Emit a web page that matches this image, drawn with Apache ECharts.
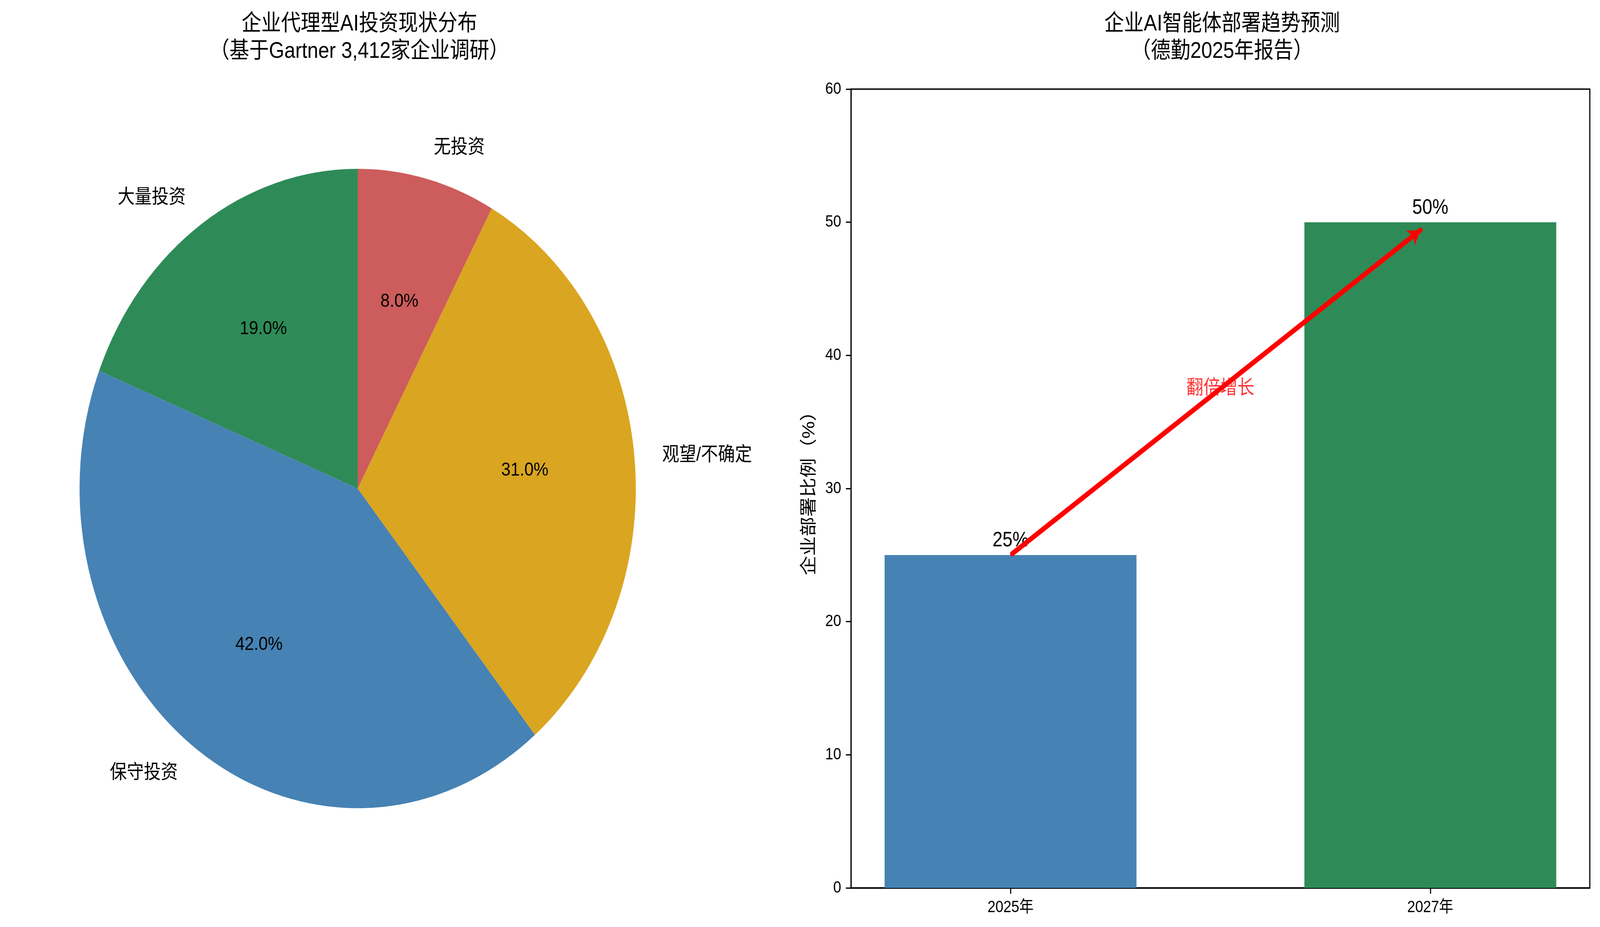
<!DOCTYPE html>
<html>
<head>
<meta charset="utf-8">
<script src="https://cdn.jsdelivr.net/npm/echarts@6/dist/echarts.min.js"></script>
<style>
html,body{margin:0;padding:0;background:#fff;overflow:hidden;}
#chart{width:4706px;height:2372px;transform-origin:0 0;}
</style>
</head>
<body>
<div id="chart"></div>
<script>
// ---- data ----
const pieTitle = '企业代理型AI投资现状分布\n（基于Gartner 3,412家企业调研）';
const pieLabels = ['大量投资', '保守投资', '观望/不确定', '无投资'];
const pieValues = [19, 42, 31, 8];
const pieColors = ['#2E8B57', '#4682B4', '#DAA520', '#CD5C5C'];

const barTitle = '企业AI智能体部署趋势预测\n（德勤2025年报告）';
const barCategories = ['2025年', '2027年'];
const barValues = [25, 50];
const barColors = ['#4682B4', '#2E8B57'];
const yAxisName = '企业部署比例（%）';
const arrowText = '翻倍增长';
const yMin = 0, yMax = 60, yStep = 10;

// ---- fit the 4706 x 2372 design into whatever viewport the browser gives ----
const el = document.getElementById('chart');
const fx = window.innerWidth / 4706, fy = window.innerHeight / 2372;
if (Math.abs(fx - 1) > 0.001 || Math.abs(fy - 1) > 0.001) {
  el.style.transform = 'scale(' + fx + ',' + fy + ')';
}

// ---- layout ----
const FONT = "'Liberation Sans', 'Noto Sans CJK SC', sans-serif";
const pieCx = 1052, pieCy = 1250, pieR = 818;
const axL = 2503, axR = 4676, axT = 228, axB = 2272;
const xMin = -0.38, xMax = 1.38;
const pxX = (axR - axL) / (xMax - xMin);      // pixels per x unit
const pxY = (axB - axT) / (yMax - yMin);      // pixels per y unit

const chart = echarts.init(el, null, {renderer: 'canvas'});

const pieData = pieLabels.map((n, i) => ({name: n, value: pieValues[i], itemStyle: {color: pieColors[i]}}));
const pieTotal = pieValues.reduce((a, b) => a + b, 0);

const barData = barValues.map((v, i) => ({value: [i, v], itemStyle: {color: barColors[i]}}));
const midPoint = [(0 + 1) / 2, (barValues[0] + barValues[1]) / 2];

// arrow from top of first bar to top of second, shortened like a matplotlib annotate arrow
const headLen = 36;
const arrowStart = [0, barValues[0]], arrowEnd = [1, barValues[1]];
const dPx = [(arrowEnd[0] - arrowStart[0]) * pxX, (arrowEnd[1] - arrowStart[1]) * pxY];
const dLen = Math.hypot(dPx[0], dPx[1]);
const u = [dPx[0] / dLen, dPx[1] / dLen];
const shrink = (pt, d) => [pt[0] + u[0] * d / pxX, pt[1] + u[1] * d / pxY];
const lineFrom = shrink(arrowStart, 6);
const lineTo = shrink(arrowEnd, -(17 + headLen / 2));

const option = {
  animation: false,
  backgroundColor: '#fff',
  textStyle: {fontFamily: FONT},
  title: [
    {text: pieTitle, left: pieCx, top: 22, textAlign: 'center',
     textStyle: {fontSize: 58, fontWeight: 'normal', color: '#000', lineHeight: 70, fontFamily: FONT}},
    {text: barTitle, left: (axL + axR) / 2, top: 22, textAlign: 'center',
     textStyle: {fontSize: 58, fontWeight: 'normal', color: '#000', lineHeight: 70, fontFamily: FONT}}
  ],
  grid: {left: axL, width: axR - axL, top: axT, height: axB - axT, show: true,
         borderColor: '#000', borderWidth: 3.3, backgroundColor: 'transparent'},
  xAxis: {
    type: 'value', min: xMin, max: xMax,
    splitLine: {show: false},
    axisLine: {show: true, onZero: false, lineStyle: {color: '#000', width: 3.3}},
    axisTick: {show: true, customValues: [0, 1], length: 15, lineStyle: {color: '#000', width: 3.3}},
    axisLabel: {show: true, customValues: [0, 1], margin: 29, fontSize: 42, color: '#000', fontFamily: FONT,
                formatter: v => barCategories[Math.round(v)]}
  },
  yAxis: {
    type: 'value', min: yMin, max: yMax, interval: yStep,
    name: yAxisName, nameLocation: 'middle', nameGap: 97, nameRotate: 90,
    nameTextStyle: {fontSize: 50, color: '#000', fontFamily: FONT},
    splitLine: {show: false},
    axisLine: {show: true, onZero: false, lineStyle: {color: '#000', width: 3.3}},
    axisTick: {show: true, length: 15, lineStyle: {color: '#000', width: 3.3}},
    axisLabel: {margin: 29, fontSize: 42, color: '#000', fontFamily: FONT}
  },
  series: [
    {
      type: 'pie', center: [pieCx, pieCy], radius: [0, pieR],
      startAngle: 90, clockwise: false, avoidLabelOverlap: false, silent: true,
      data: pieData,
      itemStyle: {borderWidth: 0},
      label: {show: true, position: 'outside', formatter: '{b}', fontSize: 50, color: '#000',
              fontFamily: FONT, distanceToLabelLine: 0},
      labelLine: {show: false, length: pieR * 0.1, length2: 0},
      emphasis: {disabled: true}
    },
    {
      type: 'pie', center: [pieCx, pieCy], radius: [pieR * 0.2, pieR],
      startAngle: 90, clockwise: false, avoidLabelOverlap: false, silent: true,
      data: pieLabels.map((n, i) => ({name: n, value: pieValues[i]})),
      itemStyle: {color: 'rgba(0,0,0,0)', borderWidth: 0},
      label: {show: true, position: 'inside', fontSize: 49, color: '#000', fontFamily: FONT,
              formatter: p => (p.value / pieTotal * 100).toFixed(1) + '%'},
      labelLine: {show: false},
      emphasis: {disabled: true}
    },
    {
      type: 'bar', data: barData, barWidth: 0.6 * pxX, z: 2,
      label: {show: true, position: 'top', distance: 10, fontSize: 53, color: '#000', fontFamily: FONT,
              formatter: p => p.value[1] + '%'},
      emphasis: {disabled: true}
    },
    {
      type: 'scatter', data: [midPoint], symbolSize: 0, z: 3, silent: true,
      label: {show: true, position: 'inside', formatter: arrowText, fontSize: 50, color: '#ff0000', fontFamily: FONT},
      markLine: {
        silent: true, z: 10,
        symbol: ['none', 'arrow'], symbolSize: [34, headLen],
        label: {show: false},
        lineStyle: {color: '#ff0000', width: 13, type: 'solid', cap: 'round'},
        data: [[{coord: lineFrom}, {coord: lineTo}]]
      }
    }
  ]
};
chart.setOption(option);
</script>
</body>
</html>
